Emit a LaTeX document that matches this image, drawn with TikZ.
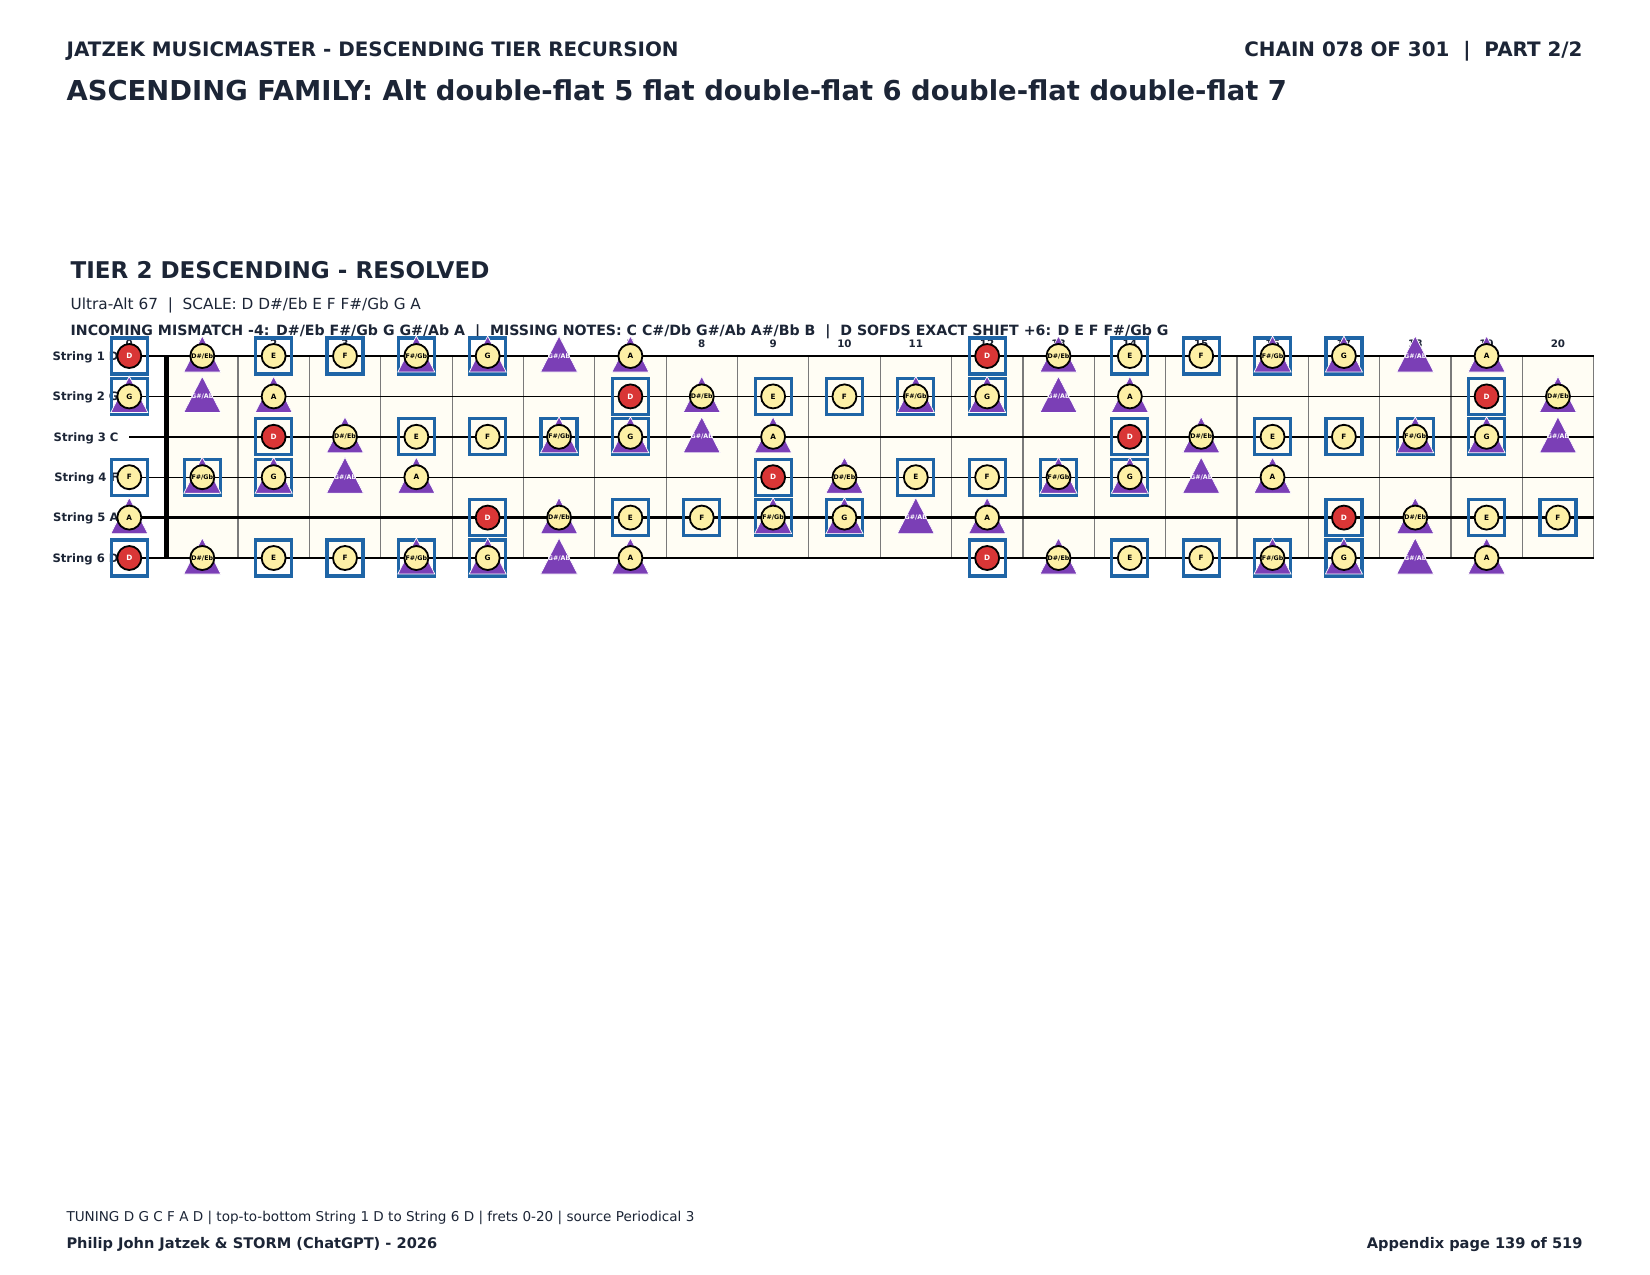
\documentclass[tikz,border=0pt]{standalone}
\usepackage{fontspec}
\setmainfont{DejaVu Sans}
\usetikzlibrary{calc}

\definecolor{navy}{HTML}{1C2536}
\definecolor{noteyellow}{HTML}{FDF0A6}
\definecolor{notered}{HTML}{D93636}
\definecolor{boxblue}{HTML}{1F65A6}
\definecolor{tripurple}{HTML}{7B3FB6}
\definecolor{boardcream}{HTML}{FFFDF4}
\definecolor{fretgray}{HTML}{7A7A7A}

\newcommand\fbfs[1]{\fontsize{#1}{#1}\selectfont}
\newcommand\fbCellBox{\node[nbox] (b-\s-\f) at (c-\s-\f) {};}
\newcommand\fbCellTri{\draw[tri, shift={(c-\s-\f)}] (0,-20) -- (18.5,16) -- (-18.5,16) -- cycle;}
\newcommand\fbCellNote[1]{\node[ncirc] (n-\s-\f) at (c-\s-\f) {#1};}
\newcommand\fbCellAcc[1]{\node[ncirc,acc] (n-\s-\f) at (c-\s-\f) {#1};}
\newcommand\fbCellRed{\node[nred] (n-\s-\f) at (c-\s-\f) {D};}
\newcommand\fbCellTriLabel{\node[trilabel] (t-\s-\f) at (c-\s-\f) {G\#/Ab};}

\begin{document}
\begin{tikzpicture}[x=1pt,y=-1pt,
  txt/.style={inner sep=0pt, text=navy},
  nbox/.style={rectangle, draw=boxblue, line width=3.2pt, minimum size=36pt, inner sep=0pt},
  tri/.style={fill=tripurple, draw=white, line width=0.7pt},
  ncirc/.style={circle, draw=black, line width=1.8pt, fill=noteyellow, minimum size=24pt, inner sep=0pt, text=black, font=\bfseries\fbfs{7.3}},
  nred/.style={ncirc, fill=notered, text=white},
  acc/.style={font=\bfseries\fbfs{6.3}},
  trilabel/.style={inner sep=0pt, text=white, font=\bfseries\fbfs{6.3}},
  strlabel/.style={txt, anchor=base east, font=\bfseries\fbfs{11.6}},
  fretnum/.style={txt, anchor=base, font=\bfseries\fbfs{10.3}},
]
\useasboundingbox (0,0) rectangle (1650,1275);
\fill[white] (0,0) rectangle (1650,1275);

% header
\node[txt, anchor=base west, font=\bfseries\fbfs{19.9}] (hdrL) at (66.5,56.7) {JATZEK MUSICMASTER - DESCENDING TIER RECURSION};
\node[txt, anchor=base east, font=\bfseries\fbfs{19.9}] (hdrR) at (1582.7,56.7) {CHAIN 078 OF 301~~|~~PART 2/2};
\node[txt, anchor=base west, font=\bfseries\fbfs{27.4}] (title) at (66.5,100.7) {ASCENDING FAMILY: Alt double-flat 5 flat double-flat 6 double-flat double-flat 7};

% section
\node[txt, anchor=base west, font=\bfseries\fbfs{23.05}] (tier) at (70.5,278) {TIER 2 DESCENDING - RESOLVED};
\node[txt, anchor=base west, font=\fbfs{15.3}] (scale) at (70.5,309) {Ultra-Alt 67~~|~~SCALE: D D\#/Eb E F F\#/Gb G A};
\node[txt, anchor=base west, font=\bfseries\fbfs{14.15}] (info) at (70.5,335) {INCOMING MISMATCH -4: D\#/Eb F\#/Gb G G\#/Ab A~~|~~MISSING NOTES: C C\#/Db G\#/Ab A\#/Bb B~~|~~D SOFDS EXACT SHIFT +6: D E F F\#/Gb G};

% footer
\node[txt, anchor=base west, font=\fbfs{13.56}] (tuning) at (66.3,1221) {TUNING D G C F A D | top-to-bottom String 1 D to String 6 D | frets 0-20 | source Periodical 3};
\node[txt, anchor=base west, font=\bfseries\fbfs{14.6}] (author) at (66.3,1248) {Philip John Jatzek \& STORM (ChatGPT) - 2026};
\node[txt, anchor=base east, font=\bfseries\fbfs{14.6}] (page) at (1582.7,1248) {Appendix page 139 of 519};

% board
\fill[boardcream] (166.7,356) rectangle (1593.7,558);
\foreach \n in {1,...,20} {
  \draw[fretgray, line width=1.2pt] ({166.7+71.35*\n},356) -- ({166.7+71.35*\n},558);
}
\draw[black, line width=5pt] (166.7,356) -- (166.7,558);

% fret numbers
\node[fretnum] (fn-0) at (129.3,347) {0};
\foreach \f in {1,...,20} {
  \node[fretnum] (fn-\f) at ({130.95+71.35*\f},347) {\f};
}

% strings and labels
\foreach \s/\nm/\w in {1/D/1.1,2/G/1.1,3/C/2.3,4/F/1.1,5/A/2.3,6/D/1.1} {
  \pgfmathsetmacro{\yy}{356+40.4*(\s-1)}
  \coordinate (sa-\s) at (129.3,\yy);
  \coordinate (sb-\s) at (1593.7,\yy);
  \draw[black, line width=\w pt] (sa-\s) -- (sb-\s);
  \node[strlabel] (sl-\s) at (118.7,\yy+4.2) {String \s\ \nm};
}

% markers
\foreach \s/\o in {1/2,2/7,3/0,4/5,5/9,6/2} {
  \foreach \f in {0,...,20} {
    \pgfmathtruncatemacro{\p}{mod(\o+\f,12)}
    \pgfmathsetmacro{\xx}{\f==0 ? 129.3 : 130.95+71.35*\f}
    \pgfmathsetmacro{\yy}{356+40.4*(\s-1)}
    \coordinate (c-\s-\f) at (\xx,\yy);
    \ifcase\p
    \or
    \or \fbCellBox\fbCellRed
    \or \fbCellTri\fbCellAcc{D\#/Eb}
    \or \fbCellBox\fbCellNote{E}
    \or \fbCellBox\fbCellNote{F}
    \or \fbCellBox\fbCellTri\fbCellAcc{F\#/Gb}
    \or \fbCellBox\fbCellTri\fbCellNote{G}
    \or \fbCellTri\fbCellTriLabel
    \or \fbCellTri\fbCellNote{A}
    \or
    \or
    \fi
  }
}
\end{tikzpicture}
\end{document}
